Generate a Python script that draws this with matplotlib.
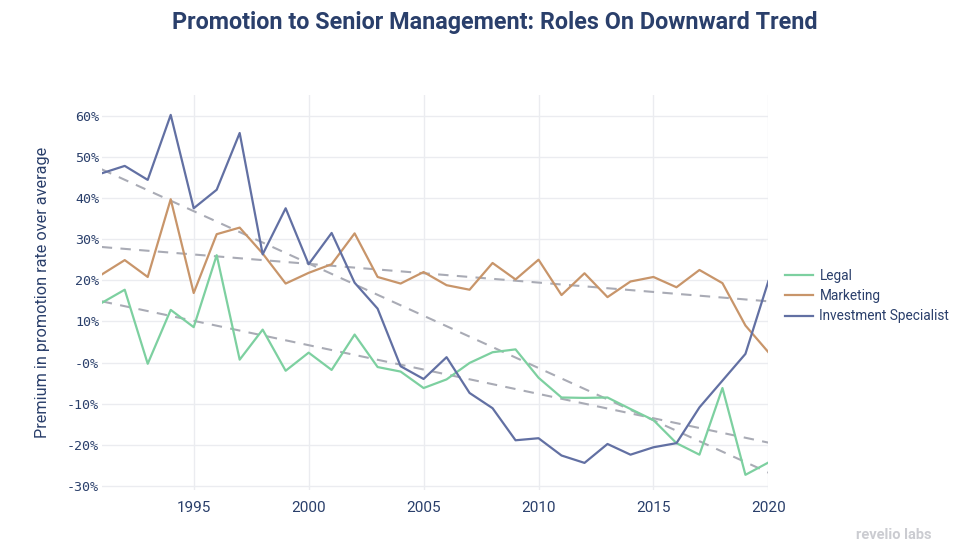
import numpy as np
import matplotlib.pyplot as plt

# data (percent)
years = list(range(1991, 2021))
legal = [14.5, 17.7, -0.3, 12.8, 8.6, 26.1, 0.7, 8.0, -2.0, 2.4,
         -1.8, 6.8, -1.1, -2.2, -6.2, -4.1, -0.1, 2.5, 3.2, -3.7,
         -8.5, -8.6, -8.5, -11.3, -14.0, -19.6, -22.4, -6.2, -27.3, -24.3]
marketing = [21.4, 24.9, 20.8, 39.7, 16.9, 31.2, 32.8, 26.5, 19.2, 21.8,
             23.9, 31.4, 20.8, 19.2, 22.0, 18.8, 17.7, 24.2, 20.2, 25.0,
             16.4, 21.7, 15.9, 19.7, 20.8, 18.3, 22.5, 19.3, 9.0, 2.5]
investment = [46.0, 47.8, 44.4, 60.2, 37.5, 42.0, 55.8, 26.3, 37.5, 23.9,
              31.5, 19.4, 13.1, -0.9, -4.0, 1.3, -7.4, -11.1, -18.9, -18.4,
              -22.6, -24.4, -19.8, -22.4, -20.6, -19.6, -10.9, -4.4, 2.1, 19.8]
series_names = ['Legal', 'Marketing', 'Investment Specialist']
colors = ['#7dd0a0', '#c8956a', '#6270a3']

ytick_vals = [-30, -20, -10, 0, 10, 20, 30, 40, 50, 60]
ytick_labels = ['-30%', '-20%', '-10%', '-0%', '10%', '20%', '30%', '40%', '50%', '60%']
xtick_vals = [1995, 2000, 2005, 2010, 2015, 2020]

navy = '#2a3f6b'
plt.rcParams['font.family'] = ['Roboto', 'DejaVu Sans']

fig = plt.figure(figsize=(9.69, 5.5), dpi=100)
ax = fig.add_axes([0.105, 0.109, 0.688, 0.718])

x = np.array(years)
for name, vals, c in zip(series_names, [legal, marketing, investment], colors):
    ax.plot(x, vals, color=c, lw=1.6, label=name, zorder=3)
# linear trend for each role
for vals in [legal, marketing, investment]:
    m, b = np.polyfit(x, vals, 1)
    ax.plot(x, m * x + b, color='#a9abb5', lw=1.5, ls=(0, (5, 4)), zorder=2)

ax.set_xlim(1991, 2020)
ax.set_ylim(-31, 65)
ax.set_yticks(ytick_vals)
ax.set_yticklabels(ytick_labels, family='DejaVu Sans Mono', fontsize=9.6)
ax.set_xticks(xtick_vals)
ax.tick_params(axis='x', labelsize=11, colors=navy, length=0, pad=8)
ax.tick_params(axis='y', colors=navy, length=0, pad=2)
ax.grid(True, color='#ebecf0', lw=1)
ax.set_axisbelow(True)
for s in ax.spines.values():
    s.set_visible(False)

ax.set_ylabel('Premium in promotion rate over average', fontsize=11.7, color=navy, labelpad=12)
fig.text(0.511, 0.96, 'Promotion to Senior Management: Roles On Downward Trend',
         ha='center', va='center', fontsize=16.8, fontweight='bold', color=navy)

leg = ax.legend(loc='center left', bbox_to_anchor=(1.0255, 0.491), frameon=False,
                fontsize=9.8, handlelength=2.0, handletextpad=0.5,
                labelspacing=0.45, borderaxespad=0, borderpad=0)
for t in leg.get_texts():
    t.set_color(navy)

fig.text(0.961, 0.027, 'revelio labs', ha='right', va='center', fontsize=10.5,
         fontweight='bold', color='#cbccd1')

fig.savefig('out.png', dpi=100)
